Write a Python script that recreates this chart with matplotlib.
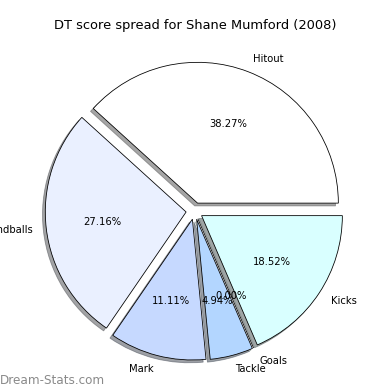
import matplotlib
matplotlib.use("Agg")
import matplotlib.pyplot as plt

# DT score spread
categorias = ["Hitout", "Handballs", "Mark", "Tackle", "Goals", "Kicks"]
puntos = [31, 22, 9, 4, 0, 15]
colores = ["#ffffff", "#eaf0ff", "#c6d9ff", "#b3d6ff", "#b3ffd9", "#d9ffff"]
separar = [0.06, 0.06, 0.06, 0.06, 0.06, 0.06]

fig = plt.figure(figsize=(390 / 72, 390 / 72), dpi=72)

# ejes cuadrados centrados en la tarta (radio ~141 px)
L = 1.38
radio = 140.8
lado = 2 * L * radio / 390
cx, cy = 194.5 / 390, 1 - 211 / 390
ax = fig.add_axes([cx - lado / 2, cy - lado / 2, lado, lado])

wedges, textos, autotextos = ax.pie(
    puntos,
    labels=categorias,
    colors=colores,
    explode=separar,
    autopct="%1.2f%%",
    shadow=True,
    startangle=0,
    wedgeprops={"edgecolor": "black", "linewidth": 0.8},
    textprops={"fontsize": 10},
)
ax.set_xlim(-L, L)
ax.set_ylim(-L, L)
ax.set_aspect("equal")
ax.axis("off")

fig.text(0.5, 1 - 25 / 390, "DT score spread for Shane Mumford (2008)",
         ha="center", va="center", fontsize=13)
fig.text(0.0, 1 - 380 / 390, "Dream-Stats.com", ha="left", va="center",
         fontsize=12, color="#8a8a8a")

fig.savefig("out.png", dpi=72)
